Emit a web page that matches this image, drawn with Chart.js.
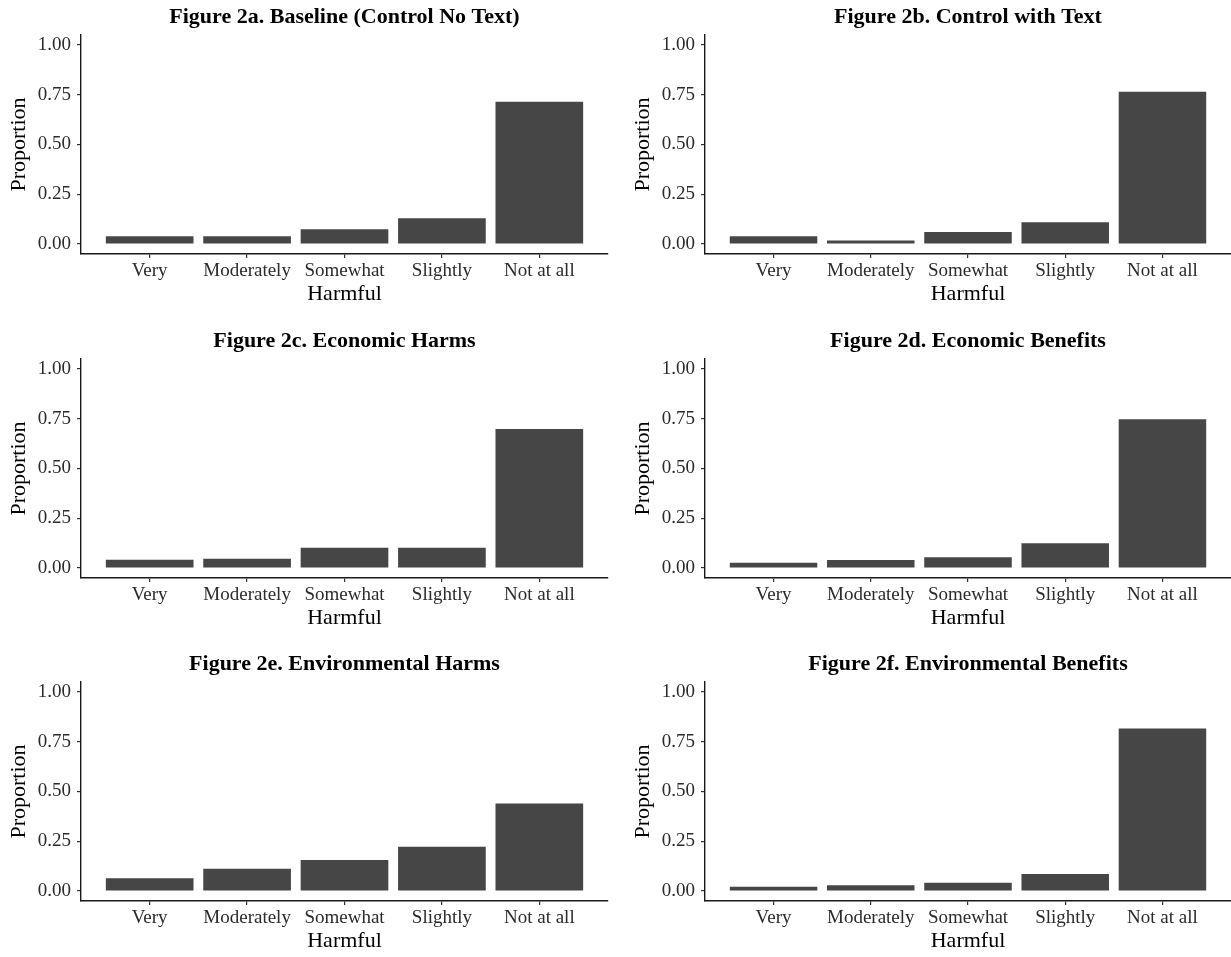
<!DOCTYPE html>
<html>
<head>
<meta charset="utf-8">
<script src="https://cdn.jsdelivr.net/npm/chart.js@4/dist/chart.umd.min.js"></script>
<style>
  html, body { margin: 0; padding: 0; background: #fff; overflow: hidden; }
  #wrap { position: relative; width: 1231px; height: 957px; }
  canvas { position: absolute; }
</style>
</head>
<body>
<div id="wrap"></div>
<script>
// Response categories (x axis), shared by every panel
const categories = ['Very', 'Moderately', 'Somewhat', 'Slightly', 'Not at all'];
const yTicks = [0, 0.25, 0.5, 0.75, 1.0];

// Proportion of respondents per category, one array per treatment
const baseline = [0.039, 0.039, 0.074, 0.129, 0.715];
const controlText = [0.039, 0.018, 0.060, 0.109, 0.765];
const economicHarms = [0.042, 0.047, 0.102, 0.102, 0.698];
const economicBenefits = [0.027, 0.040, 0.054, 0.124, 0.747];
const environmentalHarms = [0.064, 0.112, 0.156, 0.223, 0.440];
const environmentalBenefits = [0.022, 0.029, 0.042, 0.086, 0.817];

const panelTitles = [
  'Figure 2a. Baseline (Control No Text)',
  'Figure 2b. Control with Text',
  'Figure 2c. Economic Harms',
  'Figure 2d. Economic Benefits',
  'Figure 2e. Environmental Harms',
  'Figure 2f. Environmental Benefits'
];
const panelValues = [baseline, controlText, economicHarms, economicBenefits, environmentalHarms, environmentalBenefits];

const xTitle = 'Harmful';
const yTitle = 'Proportion';

const SERIF = '"Liberation Serif", "Times New Roman", serif';
const rowTops = [0, 324, 647];
const panelH = 323;

function makePanel(idx) {
  const col = idx % 2;
  const row = Math.floor(idx / 2);
  const left = col === 0 ? 0 : 615;
  const width = col === 0 ? 615 : 616;
  const yAxisWidth = col === 0 ? 81 : 90;
  const padRight = col === 0 ? 7 : 0;

  const canvas = document.createElement('canvas');
  canvas.width = width;
  canvas.height = panelH;
  canvas.style.left = left + 'px';
  canvas.style.top = rowTops[row] + 'px';
  canvas.style.width = width + 'px';
  canvas.style.height = panelH + 'px';
  document.getElementById('wrap').appendChild(canvas);

  const values = panelValues[idx];
  const points = values.map((v, i) => ({ x: i, y: v }));

  new Chart(canvas.getContext('2d'), {
    type: 'bar',
    data: {
      datasets: [{
        data: points,
        backgroundColor: '#464646',
        borderWidth: 0,
        categoryPercentage: 1.0,
        barPercentage: 0.9
      }]
    },
    options: {
      responsive: false,
      animation: false,
      devicePixelRatio: 1,
      layout: { padding: { left: 0, right: padRight, top: 0, bottom: 15.4 } },
      plugins: {
        legend: { display: false },
        tooltip: { enabled: false },
        title: {
          display: true,
          text: panelTitles[idx],
          fullSize: false,
          color: '#000',
          font: { family: SERIF, size: 22, weight: 'bold', lineHeight: 1.2 },
          padding: { top: 4.5, bottom: 4.1 }
        }
      },
      scales: {
        x: {
          type: 'linear',
          min: -0.705,
          max: 4.705,
          offset: false,
          afterBuildTicks: (axis) => { axis.ticks = categories.map((_, i) => ({ value: i })); },
          afterFit: (scale) => {
            scale.height = 53.6;
            scale.paddingLeft = 0; scale.paddingRight = 0;
            scale.paddingTop = 0; scale.paddingBottom = 0;
          },
          border: { display: true, color: '#1a1a1a', width: 1.4 },
          grid: { display: true, offset: false, drawOnChartArea: false, drawTicks: true, tickLength: 4, color: '#333', lineWidth: 1.2 },
          ticks: {
            autoSkip: false,
            maxRotation: 0,
            minRotation: 0,
            padding: 2,
            color: '#2b2b2b',
            font: { family: SERIF, size: 19 },
            callback: (v) => categories[v]
          },
          title: {
            display: true,
            text: xTitle,
            color: '#000',
            font: { family: SERIF, size: 22 },
            padding: { top: 0, bottom: 0 }
          }
        },
        y: {
          type: 'linear',
          min: -0.05,
          max: 1.05,
          afterBuildTicks: (axis) => { axis.ticks = yTicks.map(v => ({ value: v })); },
          afterFit: (scale) => {
            scale.width = yAxisWidth;
            scale.paddingLeft = 0; scale.paddingRight = 0;
            scale.paddingTop = 0; scale.paddingBottom = 0;
          },
          border: { display: true, color: '#1a1a1a', width: 1.4 },
          grid: { display: true, drawOnChartArea: false, drawTicks: true, tickLength: 4, color: '#333', lineWidth: 1.2 },
          ticks: {
            padding: 6,
            color: '#2b2b2b',
            font: { family: SERIF, size: 19 },
            callback: (v) => Number(v).toFixed(2)
          },
          title: {
            display: true,
            text: yTitle,
            color: '#000',
            font: { family: SERIF, size: 22 },
            padding: { top: col === 0 ? 6 : 15, bottom: 0 }
          }
        }
      }
    }
  });
}

for (let i = 0; i < panelValues.length; i++) makePanel(i);
</script>
</body>
</html>
